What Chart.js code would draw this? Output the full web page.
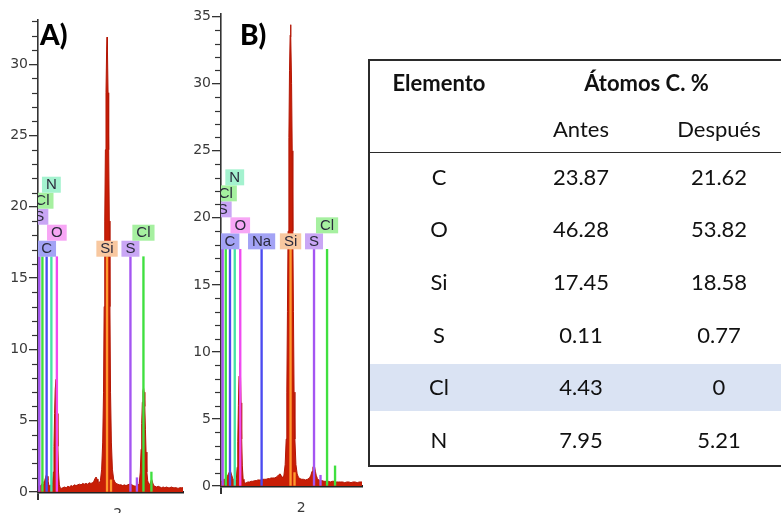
<!DOCTYPE html>
<html>
<head>
<meta charset="utf-8">
<script src="https://cdn.jsdelivr.net/npm/chart.js@4/dist/chart.umd.min.js"></script>
<style>
  html, body { margin: 0; padding: 0; background: #fff; }
  #page { position: relative; width: 781px; height: 513px; overflow: hidden; background: #fff; }
  canvas { position: absolute; top: 0; }
  .panel { position: absolute; font-family: Lato, sans-serif; font-weight: 900; font-size: 28px; line-height: 28px; color: #000; }
  .cell { position: absolute; font-family: Lato, sans-serif; font-size: 22px; color: #111; text-align: center; white-space: nowrap; }
  .bold { font-weight: 700; }
  .rule { position: absolute; background: #2b2b2b; }
  .shade { position: absolute; background: #dae3f3; }
</style>
</head>
<body>
<div id="page">
  <canvas id="specA" width="190" height="513" style="left:0;width:190px;height:513px"></canvas>
  <canvas id="specB" width="180" height="513" style="left:185px;width:180px;height:513px"></canvas>
  <div class="panel" style="left:40px;top:20px">A)</div>
  <div class="panel" style="left:240px;top:20px">B)</div>
  <div id="table"></div>
</div>
<script>
// ---- EDS spectra: [energy keV, counts] ----
const spectrumA = [
  [0.07,0.3],[0.09,0.4],[0.11,0.5],[0.13,0.4],[0.15,0.5],[0.17,0.6],[0.19,0.5],[0.21,0.7],[0.23,0.8],[0.25,1.0],
  [0.27,1.2],[0.29,1.1],[0.31,0.8],[0.33,0.5],[0.35,0.4],[0.37,0.5],[0.39,0.4],[0.405,0.35],
  [0.42,0.5],[0.44,1.4],[0.455,3.2],[0.47,5.5],[0.485,7.2],[0.505,7.9],[0.52,7.2],[0.535,5.5],[0.55,3.2],[0.565,1.4],
  [0.585,0.5],[0.605,0.3],
  [0.63,0.25],[0.67,0.3],[0.71,0.35],[0.75,0.3],[0.79,0.4],[0.83,0.35],[0.87,0.45],[0.91,0.4],[0.95,0.5],[0.99,0.45],
  [1.03,0.5],[1.07,0.55],[1.11,0.5],[1.15,0.6],[1.19,0.55],[1.23,0.6],[1.27,0.55],[1.31,0.65],[1.35,0.6],[1.39,0.65],
  [1.42,0.75],[1.45,0.95],[1.475,1.05],[1.50,0.9],[1.52,0.7],[1.55,0.6],
  [1.58,0.8],[1.61,1.6],[1.635,3.5],[1.655,7],[1.67,13],[1.685,19],[1.70,24],[1.715,28],[1.73,31],[1.74,31.9],
  [1.75,31],[1.765,28],[1.78,24],[1.795,19],[1.81,13],[1.825,7],[1.845,3.5],[1.87,1.6],[1.90,0.9],[1.93,0.7],
  [1.96,0.6],[2.00,0.55],[2.04,0.5],[2.08,0.5],[2.12,0.45],[2.16,0.5],[2.20,0.45],[2.24,0.5],[2.28,0.55],
  [2.31,0.6],[2.34,0.5],[2.38,0.45],[2.42,0.4],[2.46,0.45],[2.495,0.5],
  [2.52,0.6],[2.545,1.4],[2.565,3.0],[2.58,4.8],[2.595,6.3],[2.61,7.1],[2.625,7.3],[2.64,7.0],[2.655,6.0],[2.67,4.4],
  [2.685,2.8],[2.705,1.4],[2.725,0.8],[2.75,0.55],
  [2.78,0.55],[2.80,0.75],[2.82,0.9],[2.84,0.7],[2.87,0.45],[2.90,0.4],[2.94,0.35],[2.98,0.4],[3.02,0.35],[3.06,0.3],
  [3.10,0.35],[3.14,0.3],[3.18,0.35],[3.22,0.3],[3.26,0.3],[3.30,0.35],[3.34,0.3],[3.38,0.3],[3.42,0.3],[3.46,0.25],
  [3.50,0.3],[3.54,0.3],[3.58,0.3]
];
const spectrumB = [
  [0.06,0.3],[0.09,0.4],[0.12,0.5],[0.15,0.5],[0.18,0.6],[0.21,0.7],[0.24,0.9],[0.27,1.1],[0.29,1.1],[0.31,0.9],
  [0.34,0.6],[0.37,0.4],[0.40,0.3],
  [0.43,0.5],[0.45,1.4],[0.465,3.3],[0.48,6.0],[0.495,8.2],[0.515,9.2],[0.53,8.4],[0.545,6.2],[0.56,3.5],[0.575,1.5],
  [0.595,0.5],[0.615,0.3],
  [0.64,0.2],[0.67,0.25],[0.71,0.3],[0.75,0.3],[0.79,0.35],[0.83,0.35],[0.87,0.4],[0.91,0.4],[0.95,0.45],[0.99,0.45],
  [1.03,0.45],[1.07,0.5],[1.11,0.5],[1.15,0.5],[1.19,0.55],[1.23,0.55],[1.27,0.6],[1.31,0.6],[1.35,0.6],[1.39,0.65],
  [1.43,0.75],[1.46,0.85],[1.49,0.9],[1.51,0.8],[1.54,0.6],
  [1.58,0.8],[1.61,1.6],[1.635,3.5],[1.65,7],[1.665,13],[1.68,19],[1.70,26],[1.715,31],[1.73,33.6],[1.74,34.4],
  [1.75,33.5],[1.765,30],[1.78,25],[1.795,19],[1.81,13],[1.825,7],[1.845,3.5],[1.87,1.6],[1.90,0.9],[1.93,0.65],
  [1.97,0.55],[2.01,0.5],[2.05,0.5],[2.10,0.45],[2.15,0.5],[2.20,0.6],[2.23,0.8],[2.26,1.1],[2.28,1.4],[2.30,1.5],
  [2.32,1.45],[2.34,1.1],[2.36,0.8],[2.39,0.55],[2.42,0.45],[2.46,0.4],[2.50,0.4],[2.55,0.35],[2.60,0.35],[2.65,0.35],
  [2.70,0.3],[2.75,0.35],[2.80,0.35],[2.85,0.3],[2.90,0.3],[2.95,0.3],[3.00,0.3],[3.05,0.25],[3.10,0.3],[3.15,0.3],
  [3.20,0.25],[3.25,0.3],[3.30,0.3],[3.35,0.25],[3.40,0.3],[3.47,0.3]
];

// ---- identified element lines (labelled, listed in tagging order) ----
const lineNamesA    = ['C', 'O', 'Si', 'S', 'Cl', 'S', 'Cl', 'N'];
const lineEnergiesA = [0.277, 0.525, 1.740, 2.307, 2.622, 0.100, 0.175, 0.392];
const lineTopA = 16.5;
const lineNamesB    = ['C', 'O', 'Na', 'Si', 'S', 'Cl', 'S', 'Cl', 'N'];
const lineEnergiesB = [0.277, 0.525, 1.041, 1.740, 2.307, 2.622, 0.100, 0.175, 0.392];
const lineTopB = 17.65;

// ---- secondary (K-beta) lines, unlabelled ----
const betaNames     = ['Si', 'S', 'Cl'];
const betaEnergies  = [1.836, 2.464, 2.815];
const betaHeightsA  = [0.85, 1.0, 1.4];
const betaHeightsB  = [1.0, 0.8, 1.5];

// ---- axes ----
const yTicksA = [0, 5, 10, 15, 20, 25, 30];
const yTicksB = [0, 5, 10, 15, 20, 25, 30, 35];
const xTicks  = [2];

// ---- composition table ----
const tableElements = ['C', 'O', 'Si', 'S', 'Cl', 'N'];
const antes   = [23.87, 46.28, 17.45, 0.11, 4.43, 7.95];
const despues = [21.62, 53.82, 18.58, 0.77, 0, 5.21];
const highlightedElement = 'Cl';

const elementColors = {
  C:  { line: '#4b4bf0', box: '#a3a3f5' },
  N:  { line: '#45e3a5', box: '#a4f2cf' },
  O:  { line: '#f04af0', box: '#f7a6f5' },
  Na: { line: '#4b4bf0', box: '#a3a3f5' },
  Si: { line: '#ff9a2e', box: '#f8c8a0' },
  S:  { line: '#a455f2', box: '#c9a6f5' },
  Cl: { line: '#3fe03f', box: '#a6f0a0' }
};

// element tags stacked above their lines so they never overlap
const elementTags = {
  id: 'elementTags',
  afterDatasetsDraw(chart, args, opts) {
    const { ctx, chartArea, scales: { x, y } } = chart;
    const base = y.getPixelForValue(opts.top);
    const h = 16;
    ctx.save();
    ctx.beginPath();
    ctx.rect(chartArea.left, 0, chartArea.right - chartArea.left, chartArea.bottom);
    ctx.clip();
    ctx.font = '15px "Liberation Sans", Arial, sans-serif';
    const placed = [];
    opts.names.forEach((name, i) => {
      const cx = x.getPixelForValue(opts.energies[i]);
      const w = ctx.measureText(name).width + 8;
      const l = cx - w / 2, r = cx + w / 2;
      let level = 0;
      while (placed.some(p => p.level === level && p.l < r && l < p.r)) level++;
      placed.push({ name, cx, l, r, w, level });
    });
    ctx.textAlign = 'center';
    ctx.textBaseline = 'middle';
    placed.forEach(p => {
      const bottom = base - p.level * h;
      ctx.fillStyle = elementColors[p.name].box;
      ctx.fillRect(p.l, bottom - h, p.w, h);
      ctx.fillStyle = '#2a2a3c';
      ctx.fillText(p.name, p.cx, bottom - h / 2 + 0.5);
    });
    ctx.restore();
  }
};

// short unlabelled ticks at every unit on the count axis
const minorTicks = {
  id: 'minorTicks',
  afterDraw(chart, args, opts) {
    const { ctx, scales: { y } } = chart;
    ctx.save();
    ctx.strokeStyle = '#333';
    ctx.lineWidth = 1.2;
    for (let v = Math.ceil(y.min); v <= y.max; v += opts.step) {
      if (v % 5 === 0) continue;
      const py = Math.round(y.getPixelForValue(v)) + 0.5;
      ctx.beginPath();
      ctx.moveTo(y.right - 6, py);
      ctx.lineTo(y.right, py);
      ctx.stroke();
    }
    ctx.restore();
  }
};

function spectrumChart(id, cfg) {
  const lines = cfg.names.map((n, i) => ({ x: cfg.energies[i], y: cfg.top, el: n }))
    .concat(betaNames.map((n, i) => ({ x: betaEnergies[i], y: cfg.beta[i], el: n })));
  const tickFont = { family: '"DejaVu Sans", Verdana, sans-serif', size: 14 };
  return new Chart(document.getElementById(id), {
    type: 'line',
    data: {
      datasets: [
        {
          type: 'bar',
          data: lines,
          backgroundColor: lines.map(p => elementColors[p.el].line),
          barThickness: 1.7,
          order: 1
        },
        {
          type: 'line',
          data: cfg.spectrum.map(([e, c]) => ({ x: e, y: c })),
          fill: 'origin',
          backgroundColor: '#c81e06',
          borderColor: '#b31605',
          borderWidth: 1,
          pointRadius: 0,
          tension: 0,
          order: 2
        }
      ]
    },
    options: {
      responsive: false,
      animation: false,
      devicePixelRatio: 1,
      layout: { padding: { top: cfg.padTop, right: cfg.padRight, left: 0, bottom: 0 } },
      plugins: {
        legend: { display: false },
        tooltip: { enabled: false },
        elementTags: { names: cfg.names, energies: cfg.energies, top: cfg.top },
        minorTicks: { step: 1 }
      },
      scales: {
        x: {
          type: 'linear',
          min: cfg.xMin, max: cfg.xMax, offset: false,
          afterBuildTicks: s => { s.ticks = xTicks.map(v => ({ value: v })); },
          afterFit: s => { s.height = cfg.xHeight; },
          ticks: { font: tickFont, color: '#3a3a3a', padding: 6, maxRotation: 0 },
          grid: { drawOnChartArea: false, drawTicks: true, tickLength: 8, color: '#333', lineWidth: 2 },
          border: { display: true, color: '#222', width: 2.5 }
        },
        y: {
          min: 0, max: cfg.yMax,
          afterBuildTicks: s => { s.ticks = cfg.yTicks.map(v => ({ value: v })); },
          afterFit: s => { s.width = cfg.yWidth; },
          ticks: { font: tickFont, color: '#3a3a3a', padding: 1 },
          grid: { drawOnChartArea: false, drawTicks: true, tickLength: 9, color: '#333', lineWidth: 1.3 },
          border: { display: true, color: '#333', width: 1.6 }
        }
      }
    },
    plugins: [elementTags, minorTicks]
  });
}

spectrumChart('specA', {
  spectrum: spectrumA, names: lineNamesA, energies: lineEnergiesA, top: lineTopA, beta: betaHeightsA,
  yTicks: yTicksA, yMax: 33.1, xMin: 0.068, xMax: 3.58,
  padTop: 20, padRight: 7, yWidth: 38, xHeight: 21
});
spectrumChart('specB', {
  spectrum: spectrumB, names: lineNamesB, energies: lineEnergiesB, top: lineTopB, beta: betaHeightsB,
  yTicks: yTicksB, yMax: 35.2, xMin: 0.06, xMax: 3.466,
  padTop: 14, padRight: 3, yWidth: 36, xHeight: 27
});

// ---- table ----
(function buildTable() {
  const t = document.getElementById('table');
  const add = (cls, style, text) => {
    const d = document.createElement('div');
    d.className = cls;
    Object.assign(d.style, style);
    if (text !== undefined) d.textContent = text;
    t.appendChild(d);
    return d;
  };
  const colCenters = [439, 581, 719];
  const rowCenter = i => 176.5 + 52.7 * i;
  const fmt = v => (v === 0 ? '0' : v.toFixed(2));
  const hi = tableElements.indexOf(highlightedElement);
  if (hi >= 0) add('shade', { left: '370px', top: (rowCenter(hi) - 23.5) + 'px', width: '420px', height: '47px' });
  // frame and header rule
  add('rule', { left: '368px', top: '59px', width: '420px', height: '2px' });
  add('rule', { left: '368px', top: '151.5px', width: '420px', height: '1.8px' });
  add('rule', { left: '368px', top: '465px', width: '420px', height: '2px' });
  add('rule', { left: '368px', top: '59px', width: '2px', height: '408px' });
  const cell = (text, cx, cy, bold) =>
    add('cell' + (bold ? ' bold' : ''), { left: (cx - 80) + 'px', width: '160px', top: (cy - 15) + 'px', height: '30px', lineHeight: '30px' }, text);
  cell('Elemento', colCenters[0], 83, true);
  cell('Átomos C. %', 646.5, 83, true);
  cell('Antes', colCenters[1], 128.5, false);
  cell('Después', colCenters[2], 128.5, false);
  tableElements.forEach((el, i) => {
    const cy = rowCenter(i);
    cell(el, colCenters[0], cy, false);
    cell(fmt(antes[i]), colCenters[1], cy, false);
    cell(fmt(despues[i]), colCenters[2], cy, false);
  });
})();
</script>
</body>
</html>
